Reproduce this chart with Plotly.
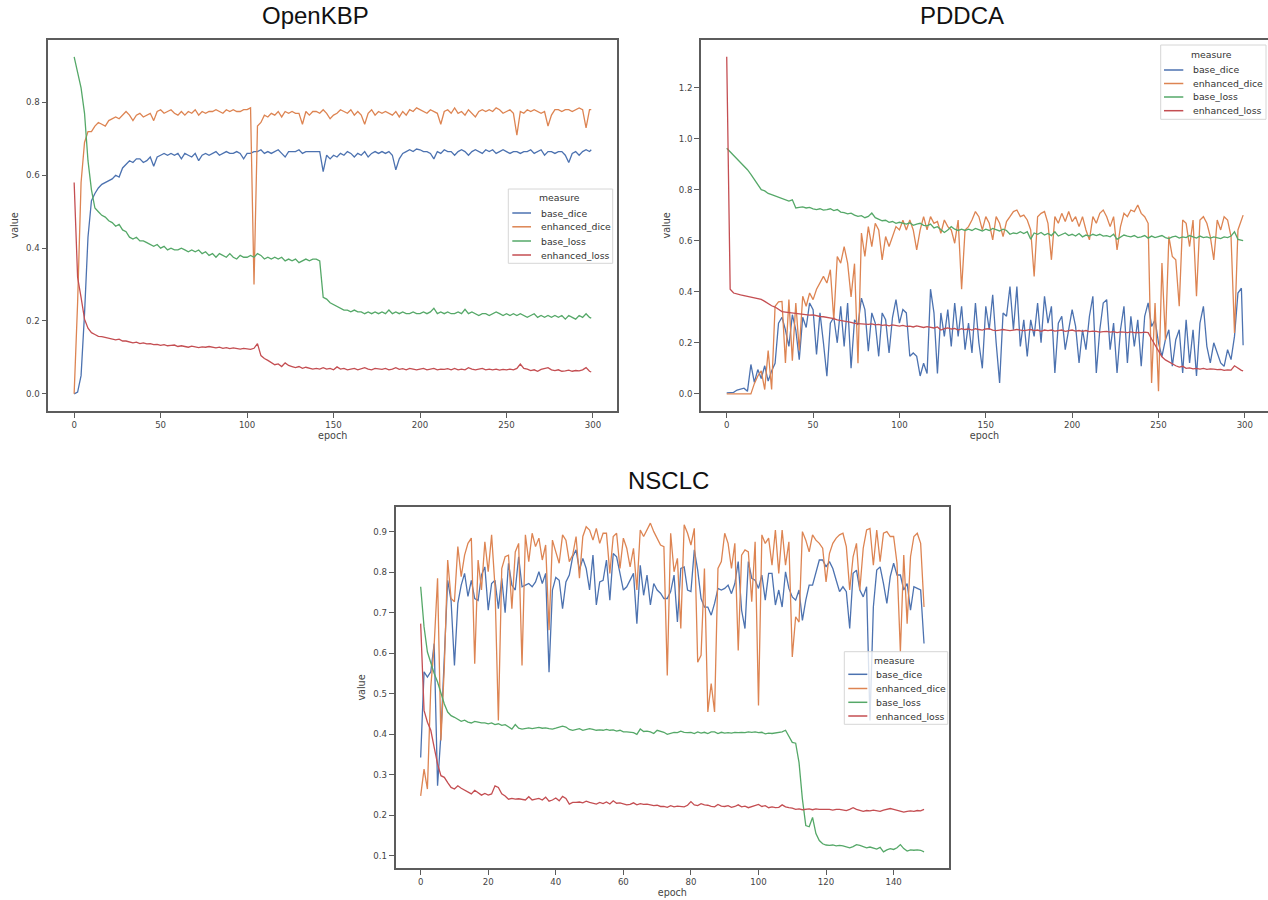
import plotly.graph_objects as go

W, H = 1268, 900

series_names = ["base_dice", "enhanced_dice", "base_loss", "enhanced_loss"]
colors = ["#4C72B0", "#DD8452", "#55A868", "#C44E52"]

epochs_300 = list(range(0, 300, 2)) + [299]
epochs_150 = list(range(150))

# ---------------- OpenKBP ----------------
okbp_base_dice = [
    0.0, 0.005, 0.05, 0.22, 0.43, 0.53, 0.55, 0.565, 0.575, 0.58,
    0.585, 0.59, 0.60, 0.595, 0.62, 0.63, 0.64, 0.635, 0.645, 0.645,
    0.635, 0.64, 0.65, 0.625, 0.65, 0.655, 0.66, 0.655, 0.66, 0.655,
    0.66, 0.645, 0.66, 0.655, 0.65, 0.66, 0.64, 0.655, 0.66, 0.655,
    0.66, 0.665, 0.655, 0.66, 0.665, 0.66, 0.66, 0.665, 0.66, 0.645,
    0.66, 0.66, 0.665, 0.665, 0.67, 0.66, 0.665, 0.66, 0.665, 0.67,
    0.66, 0.65, 0.665, 0.665, 0.665, 0.67, 0.66, 0.665, 0.665, 0.665,
    0.665, 0.665, 0.61, 0.655, 0.645, 0.655, 0.65, 0.66, 0.655, 0.665,
    0.66, 0.65, 0.66, 0.655, 0.665, 0.65, 0.66, 0.665, 0.66, 0.665,
    0.66, 0.665, 0.655, 0.615, 0.645, 0.66, 0.665, 0.67, 0.665, 0.672,
    0.67, 0.665, 0.665, 0.66, 0.645, 0.665, 0.66, 0.67, 0.665, 0.665,
    0.655, 0.665, 0.67, 0.665, 0.655, 0.665, 0.67, 0.665, 0.66, 0.67,
    0.665, 0.67, 0.66, 0.665, 0.67, 0.665, 0.66, 0.665, 0.665, 0.66,
    0.665, 0.665, 0.67, 0.66, 0.665, 0.67, 0.655, 0.665, 0.665, 0.66,
    0.665, 0.665, 0.655, 0.635, 0.66, 0.665, 0.655, 0.665, 0.67, 0.665,
    0.67]
okbp_enh_dice = [
    0.0, 0.25, 0.58, 0.69, 0.72, 0.72, 0.735, 0.745, 0.74, 0.735,
    0.75, 0.755, 0.76, 0.755, 0.765, 0.775, 0.765, 0.75, 0.765, 0.77,
    0.76, 0.765, 0.77, 0.75, 0.775, 0.78, 0.77, 0.775, 0.78, 0.77,
    0.765, 0.775, 0.765, 0.775, 0.77, 0.78, 0.765, 0.775, 0.77, 0.775,
    0.775, 0.78, 0.775, 0.77, 0.78, 0.775, 0.78, 0.775, 0.775, 0.78,
    0.78, 0.785, 0.30, 0.735, 0.745, 0.765, 0.76, 0.77, 0.765, 0.775,
    0.76, 0.775, 0.77, 0.775, 0.77, 0.77, 0.74, 0.775, 0.765, 0.775,
    0.775, 0.77, 0.78, 0.77, 0.755, 0.765, 0.77, 0.78, 0.775, 0.77,
    0.78, 0.765, 0.775, 0.765, 0.74, 0.77, 0.78, 0.765, 0.775, 0.77,
    0.775, 0.77, 0.765, 0.775, 0.76, 0.775, 0.765, 0.78, 0.775, 0.785,
    0.78, 0.775, 0.77, 0.78, 0.775, 0.77, 0.74, 0.775, 0.78, 0.77,
    0.785, 0.77, 0.775, 0.765, 0.78, 0.77, 0.76, 0.775, 0.78, 0.775,
    0.78, 0.775, 0.785, 0.78, 0.77, 0.775, 0.78, 0.77, 0.71, 0.775,
    0.77, 0.78, 0.775, 0.78, 0.775, 0.77, 0.775, 0.735, 0.765, 0.78,
    0.78, 0.775, 0.78, 0.78, 0.775, 0.78, 0.785, 0.78, 0.73, 0.78,
    0.78]
okbp_base_loss = [
    0.925, 0.88, 0.84, 0.77, 0.64, 0.56, 0.51, 0.50, 0.49, 0.485,
    0.475, 0.47, 0.46, 0.465, 0.45, 0.445, 0.43, 0.425, 0.43, 0.42,
    0.42, 0.415, 0.41, 0.405, 0.41, 0.40, 0.405, 0.395, 0.40, 0.395,
    0.395, 0.40, 0.395, 0.39, 0.395, 0.39, 0.395, 0.385, 0.39, 0.38,
    0.385, 0.375, 0.385, 0.38, 0.375, 0.385, 0.375, 0.37, 0.38, 0.375,
    0.375, 0.38, 0.375, 0.385, 0.38, 0.37, 0.375, 0.37, 0.375, 0.37,
    0.375, 0.365, 0.37, 0.365, 0.37, 0.36, 0.365, 0.37, 0.365, 0.37,
    0.37, 0.365, 0.265, 0.26, 0.25, 0.245, 0.24, 0.235, 0.23, 0.23,
    0.225, 0.23, 0.225, 0.225, 0.22, 0.225, 0.22, 0.225, 0.22, 0.225,
    0.22, 0.23, 0.22, 0.225, 0.22, 0.225, 0.22, 0.22, 0.225, 0.22,
    0.22, 0.225, 0.22, 0.225, 0.235, 0.22, 0.225, 0.22, 0.225, 0.22,
    0.22, 0.225, 0.22, 0.232, 0.22, 0.225, 0.22, 0.215, 0.22, 0.22,
    0.215, 0.22, 0.225, 0.22, 0.215, 0.22, 0.215, 0.22, 0.215, 0.22,
    0.215, 0.21, 0.215, 0.22, 0.21, 0.215, 0.21, 0.215, 0.21, 0.215,
    0.21, 0.215, 0.205, 0.215, 0.21, 0.205, 0.215, 0.21, 0.22, 0.21,
    0.208]
okbp_enh_loss = [
    0.58, 0.32, 0.265, 0.205, 0.18, 0.168, 0.163, 0.158, 0.157, 0.155,
    0.153, 0.15, 0.148, 0.15, 0.145, 0.145, 0.142, 0.14, 0.142, 0.138,
    0.14, 0.137, 0.138, 0.135, 0.136, 0.133, 0.135, 0.132, 0.133, 0.134,
    0.13, 0.132, 0.13, 0.128, 0.131, 0.13, 0.127, 0.129, 0.128, 0.13,
    0.127, 0.126, 0.128, 0.125, 0.127, 0.124, 0.126, 0.125, 0.123, 0.125,
    0.124, 0.122, 0.125, 0.138, 0.105, 0.097, 0.092, 0.085, 0.08, 0.082,
    0.075, 0.085, 0.078, 0.075, 0.072, 0.075, 0.07, 0.073, 0.07, 0.068,
    0.07, 0.068, 0.072, 0.068, 0.07, 0.066, 0.074, 0.068, 0.07, 0.066,
    0.068, 0.07, 0.066, 0.068, 0.072, 0.068, 0.066, 0.07, 0.068, 0.067,
    0.07, 0.066, 0.068, 0.072, 0.067, 0.069, 0.066, 0.07, 0.068, 0.066,
    0.068, 0.07, 0.066, 0.068, 0.07, 0.066, 0.068, 0.067, 0.069, 0.066,
    0.07, 0.066, 0.068, 0.066, 0.072, 0.068, 0.066, 0.068, 0.07, 0.066,
    0.068, 0.066, 0.068, 0.065, 0.067, 0.066, 0.068, 0.066, 0.07, 0.082,
    0.07, 0.068, 0.064, 0.066, 0.062, 0.067, 0.07, 0.072, 0.066, 0.064,
    0.066, 0.062, 0.063, 0.065, 0.062, 0.064, 0.063, 0.066, 0.072, 0.062,
    0.06]

# ---------------- PDDCA ----------------
pddca_base_dice = [
    0.004, 0.004, 0.006, 0.015, 0.02, 0.022, 0.01, 0.115, 0.045, 0.095,
    0.06, 0.11, 0.05, 0.09, 0.12, 0.277, 0.30, 0.25, 0.186, 0.31,
    0.25, 0.134, 0.30, 0.26, 0.356, 0.33, 0.154, 0.317, 0.20, 0.069,
    0.277, 0.30, 0.20, 0.343, 0.186, 0.356, 0.10, 0.29, 0.27, 0.375,
    0.33, 0.167, 0.317, 0.277, 0.147, 0.317, 0.29, 0.16, 0.30, 0.369,
    0.277, 0.33, 0.317, 0.147, 0.16, 0.147, 0.07, 0.12, 0.08, 0.41,
    0.317, 0.08, 0.317, 0.225, 0.33, 0.186, 0.356, 0.225, 0.343, 0.173,
    0.277, 0.16, 0.356, 0.20, 0.10, 0.343, 0.251, 0.388, 0.20, 0.043,
    0.317, 0.304, 0.42, 0.251, 0.42, 0.186, 0.29, 0.147, 0.29, 0.225,
    0.356, 0.20, 0.382, 0.277, 0.343, 0.082, 0.277, 0.304, 0.173, 0.251,
    0.33, 0.264, 0.121, 0.251, 0.173, 0.304, 0.382, 0.082, 0.25, 0.356,
    0.369, 0.173, 0.277, 0.082, 0.251, 0.343, 0.121, 0.304, 0.186, 0.29,
    0.108, 0.304, 0.356, 0.264, 0.29, 0.20, 0.147, 0.212, 0.251, 0.108,
    0.212, 0.251, 0.082, 0.29, 0.121, 0.251, 0.07, 0.277, 0.343, 0.186,
    0.121, 0.20, 0.16, 0.121, 0.108, 0.173, 0.134, 0.225, 0.395, 0.414,
    0.19]
pddca_enh_dice = [
    0.0, 0.0, 0.0, 0.0, 0.0, 0.0, 0.0, 0.0, 0.04, 0.07,
    0.09, 0.017, 0.17, 0.017, 0.343, 0.36, 0.362, 0.121, 0.369, 0.13,
    0.356, 0.17, 0.382, 0.343, 0.395, 0.369, 0.41, 0.434, 0.46, 0.434,
    0.486, 0.29, 0.538, 0.512, 0.577, 0.512, 0.38, 0.51, 0.12, 0.63,
    0.538, 0.655, 0.577, 0.668, 0.642, 0.525, 0.616, 0.577, 0.62, 0.655,
    0.642, 0.68, 0.642, 0.681, 0.642, 0.564, 0.642, 0.694, 0.642, 0.694,
    0.668, 0.675, 0.629, 0.681, 0.655, 0.642, 0.59, 0.681, 0.41, 0.642,
    0.655, 0.681, 0.714, 0.694, 0.642, 0.694, 0.668, 0.603, 0.694, 0.668,
    0.616, 0.675, 0.694, 0.714, 0.72, 0.694, 0.70, 0.681, 0.642, 0.46,
    0.694, 0.707, 0.714, 0.668, 0.525, 0.694, 0.668, 0.707, 0.675, 0.714,
    0.675, 0.694, 0.655, 0.694, 0.642, 0.603, 0.694, 0.668, 0.707, 0.72,
    0.694, 0.655, 0.694, 0.564, 0.655, 0.707, 0.694, 0.72, 0.714, 0.74,
    0.707, 0.694, 0.668, 0.043, 0.356, 0.01, 0.512, 0.21, 0.616, 0.538,
    0.525, 0.343, 0.681, 0.668, 0.577, 0.681, 0.382, 0.681, 0.694, 0.668,
    0.616, 0.525, 0.681, 0.642, 0.694, 0.681, 0.616, 0.238, 0.642, 0.681,
    0.70]
pddca_base_loss = [
    0.962, 0.948, 0.935, 0.922, 0.91, 0.895, 0.878, 0.86, 0.84, 0.815,
    0.80, 0.795, 0.785, 0.78, 0.775, 0.77, 0.765, 0.76, 0.755, 0.76,
    0.728, 0.73, 0.732, 0.728, 0.73, 0.725, 0.722, 0.725, 0.72, 0.722,
    0.725, 0.718, 0.722, 0.712, 0.71, 0.705, 0.708, 0.70, 0.695, 0.698,
    0.69, 0.695, 0.708, 0.69, 0.685, 0.678, 0.68, 0.672, 0.675, 0.668,
    0.672, 0.668, 0.665, 0.67, 0.66, 0.665, 0.668, 0.66, 0.658, 0.665,
    0.65, 0.655, 0.645, 0.632, 0.642, 0.655, 0.645, 0.64, 0.645, 0.64,
    0.645, 0.64, 0.648, 0.642, 0.638, 0.645, 0.64, 0.648, 0.643, 0.638,
    0.645, 0.64, 0.625, 0.63, 0.628, 0.635, 0.628, 0.635, 0.606, 0.63,
    0.625, 0.632, 0.622, 0.628, 0.62, 0.635, 0.618, 0.625, 0.63, 0.62,
    0.625, 0.618, 0.628, 0.615, 0.622, 0.618, 0.625, 0.62, 0.625, 0.618,
    0.62, 0.615, 0.625, 0.605, 0.615, 0.622, 0.618, 0.615, 0.62, 0.612,
    0.615, 0.62, 0.61, 0.618, 0.612, 0.615, 0.62, 0.612, 0.608, 0.615,
    0.618, 0.61, 0.615, 0.612, 0.62, 0.615, 0.61, 0.618, 0.612, 0.615,
    0.61, 0.615, 0.612, 0.608, 0.615, 0.612, 0.618, 0.635, 0.605, 0.60,
    0.60]
pddca_enh_loss = [
    1.32, 0.41, 0.395, 0.39, 0.388, 0.385, 0.382, 0.38, 0.378, 0.375,
    0.37, 0.362, 0.352, 0.345, 0.34, 0.33, 0.322, 0.32, 0.318, 0.315,
    0.313, 0.312, 0.31, 0.31, 0.308, 0.309, 0.305, 0.303, 0.302, 0.30,
    0.298, 0.295, 0.29, 0.288, 0.285, 0.282, 0.28, 0.276, 0.275, 0.274,
    0.275, 0.272, 0.274, 0.27, 0.272, 0.268, 0.27, 0.266, 0.27, 0.268,
    0.265, 0.268, 0.264, 0.265, 0.262, 0.266, 0.262, 0.26, 0.263, 0.26,
    0.258, 0.262, 0.25, 0.255, 0.258, 0.254, 0.256, 0.25, 0.255, 0.252,
    0.254, 0.25, 0.255, 0.252, 0.25, 0.254, 0.255, 0.25, 0.248, 0.25,
    0.252, 0.25, 0.248, 0.25, 0.252, 0.25, 0.248, 0.25, 0.252, 0.248,
    0.25, 0.245, 0.25, 0.248, 0.25, 0.246, 0.248, 0.25, 0.245, 0.248,
    0.25, 0.246, 0.248, 0.245, 0.248, 0.244, 0.246, 0.245, 0.242, 0.244,
    0.245, 0.242, 0.244, 0.24, 0.243, 0.242, 0.24, 0.243, 0.24, 0.241,
    0.24, 0.242, 0.24, 0.215, 0.19, 0.165, 0.145, 0.133, 0.125, 0.115,
    0.11, 0.105, 0.108, 0.10, 0.102, 0.098, 0.10, 0.097, 0.10, 0.096,
    0.098, 0.097, 0.095, 0.096, 0.092, 0.094, 0.093, 0.11, 0.10, 0.092,
    0.09]

# ---------------- NSCLC ----------------
nsclc_base_dice = [
    0.343, 0.554, 0.541, 0.554, 0.624, 0.273, 0.40, 0.59, 0.78, 0.73,
    0.57, 0.723, 0.768, 0.797, 0.74, 0.78, 0.735, 0.73, 0.793, 0.813,
    0.706, 0.772, 0.78, 0.71, 0.785, 0.70, 0.822, 0.768, 0.756, 0.838,
    0.764, 0.768, 0.772, 0.764, 0.776, 0.801, 0.772, 0.797, 0.553, 0.756,
    0.787, 0.78, 0.71, 0.776, 0.793, 0.838, 0.855, 0.805, 0.834, 0.809,
    0.756, 0.842, 0.719, 0.776, 0.78, 0.83, 0.731, 0.846, 0.838, 0.797,
    0.756, 0.764, 0.78, 0.797, 0.673, 0.817, 0.743, 0.793, 0.719, 0.772,
    0.756, 0.748, 0.735, 0.735, 0.752, 0.793, 0.677, 0.809, 0.813, 0.756,
    0.752, 0.855, 0.805, 0.735, 0.714, 0.714, 0.694, 0.723, 0.76, 0.756,
    0.76, 0.768, 0.747, 0.772, 0.826, 0.706, 0.661, 0.826, 0.785, 0.78,
    0.76, 0.793, 0.731, 0.797, 0.797, 0.719, 0.756, 0.714, 0.801, 0.76,
    0.739, 0.731, 0.756, 0.681, 0.731, 0.768, 0.768, 0.801, 0.83, 0.83,
    0.813, 0.826, 0.809, 0.78, 0.752, 0.764, 0.752, 0.661, 0.797, 0.805,
    0.756, 0.739, 0.764, 0.434, 0.714, 0.805, 0.813, 0.772, 0.723, 0.789,
    0.822, 0.793, 0.793, 0.756, 0.772, 0.706, 0.764, 0.76, 0.756, 0.624]
nsclc_enh_dice = [
    0.248, 0.314, 0.265, 0.517, 0.62, 0.785, 0.385, 0.566, 0.83, 0.735,
    0.727, 0.863, 0.789, 0.842, 0.871, 0.884, 0.574, 0.83, 0.756, 0.875,
    0.801, 0.892, 0.764, 0.434, 0.809, 0.838, 0.842, 0.71, 0.85, 0.871,
    0.57, 0.892, 0.826, 0.896, 0.863, 0.884, 0.83, 0.867, 0.657, 0.879,
    0.85, 0.822, 0.892, 0.879, 0.826, 0.842, 0.888, 0.785, 0.888, 0.912,
    0.904, 0.879, 0.908, 0.871, 0.896, 0.896, 0.797, 0.888, 0.896, 0.809,
    0.884, 0.859, 0.813, 0.859, 0.756, 0.904, 0.888, 0.904, 0.921, 0.90,
    0.884, 0.867, 0.863, 0.545, 0.896, 0.801, 0.834, 0.661, 0.917, 0.896,
    0.867, 0.908, 0.578, 0.595, 0.809, 0.455, 0.525, 0.455, 0.809, 0.826,
    0.896, 0.871, 0.809, 0.871, 0.607, 0.842, 0.855, 0.85, 0.727, 0.875,
    0.471, 0.892, 0.871, 0.884, 0.817, 0.904, 0.797, 0.904, 0.817, 0.875,
    0.591, 0.69, 0.677, 0.90, 0.879, 0.85, 0.892, 0.879, 0.871, 0.859,
    0.776, 0.846, 0.871, 0.884, 0.892, 0.896, 0.863, 0.756, 0.838, 0.871,
    0.756, 0.859, 0.904, 0.908, 0.817, 0.904, 0.826, 0.896, 0.90, 0.888,
    0.888, 0.822, 0.603, 0.842, 0.673, 0.838, 0.888, 0.896, 0.871, 0.714]
nsclc_base_loss = [
    0.764, 0.665, 0.603, 0.574, 0.55, 0.529, 0.50, 0.475, 0.455, 0.446,
    0.442, 0.438, 0.432, 0.435, 0.43, 0.428, 0.432, 0.43, 0.428, 0.428,
    0.426, 0.428, 0.424, 0.426, 0.422, 0.424, 0.418, 0.413, 0.424, 0.415,
    0.413, 0.415, 0.416, 0.414, 0.416, 0.417, 0.415, 0.416, 0.414, 0.413,
    0.415, 0.418, 0.42, 0.418, 0.412, 0.41, 0.412, 0.414, 0.41, 0.412,
    0.414, 0.412, 0.41, 0.411, 0.41, 0.412, 0.41, 0.411, 0.408, 0.41,
    0.406, 0.406, 0.405, 0.404, 0.40, 0.413, 0.407, 0.408, 0.406, 0.402,
    0.41, 0.408, 0.405, 0.40, 0.402, 0.405, 0.404, 0.408, 0.405, 0.404,
    0.405, 0.402, 0.406, 0.403, 0.405, 0.402, 0.406, 0.406, 0.402, 0.405,
    0.403, 0.404, 0.403, 0.405, 0.404, 0.405, 0.404, 0.406, 0.405, 0.406,
    0.404, 0.405, 0.401, 0.403, 0.402, 0.403, 0.404, 0.406, 0.41, 0.395,
    0.38, 0.378, 0.33, 0.24, 0.175, 0.172, 0.195, 0.155, 0.138, 0.13,
    0.127, 0.126, 0.127, 0.125, 0.126, 0.125, 0.122, 0.12, 0.123, 0.128,
    0.126, 0.123, 0.12, 0.122, 0.12, 0.117, 0.121, 0.11, 0.115, 0.118,
    0.116, 0.12, 0.128, 0.118, 0.112, 0.115, 0.114, 0.115, 0.114, 0.11]
nsclc_enh_loss = [
    0.673, 0.459, 0.43, 0.41, 0.368, 0.327, 0.298, 0.294, 0.281, 0.269,
    0.265, 0.273, 0.267, 0.262, 0.259, 0.253, 0.262, 0.256, 0.25, 0.254,
    0.25, 0.253, 0.273, 0.269, 0.253, 0.248, 0.24, 0.242, 0.24, 0.241,
    0.24, 0.238, 0.246, 0.238, 0.24, 0.242, 0.238, 0.245, 0.235, 0.238,
    0.243, 0.236, 0.247, 0.242, 0.228, 0.232, 0.232, 0.233, 0.231, 0.235,
    0.232, 0.23, 0.228, 0.232, 0.229, 0.233, 0.228, 0.236, 0.23, 0.231,
    0.228, 0.226, 0.227, 0.231, 0.226, 0.229, 0.227, 0.228, 0.226, 0.224,
    0.225, 0.222, 0.222, 0.22, 0.224, 0.221, 0.223, 0.222, 0.221, 0.225,
    0.234, 0.226, 0.224, 0.229, 0.226, 0.225, 0.222, 0.221, 0.227, 0.223,
    0.222, 0.224, 0.22, 0.222, 0.226, 0.221, 0.223, 0.219, 0.222, 0.224,
    0.227, 0.222, 0.224, 0.219, 0.221, 0.219, 0.22, 0.226, 0.221, 0.219,
    0.218, 0.215, 0.216, 0.214, 0.215, 0.216, 0.214, 0.216, 0.215, 0.215,
    0.214, 0.215, 0.213, 0.215, 0.215, 0.213, 0.212, 0.215, 0.219, 0.215,
    0.213, 0.21, 0.212, 0.211, 0.213, 0.211, 0.21, 0.213, 0.215, 0.217,
    0.215, 0.212, 0.21, 0.208, 0.21, 0.211, 0.21, 0.212, 0.211, 0.215]

panel_titles = ["OpenKBP", "PDDCA", "NSCLC"]
legend_title = "measure"

panels = [
    dict(x=epochs_300, ys=[okbp_base_dice, okbp_enh_dice, okbp_base_loss, okbp_enh_loss],
         xa="x", ya="y"),
    dict(x=epochs_300, ys=[pddca_base_dice, pddca_enh_dice, pddca_base_loss, pddca_enh_loss],
         xa="x2", ya="y2"),
    dict(x=epochs_150, ys=[nsclc_base_dice, nsclc_enh_dice, nsclc_base_loss, nsclc_enh_loss],
         xa="x3", ya="y3"),
]

for p in panels:
    for ys in p["ys"]:
        if len(ys) != len(p["x"]):
            raise ValueError(f"length mismatch {len(ys)} vs {len(p['x'])}")

fig = go.Figure()
for i, p in enumerate(panels):
    for name, color, ys in zip(series_names, colors, p["ys"]):
        fig.add_trace(go.Scatter(
            x=p["x"], y=ys, mode="lines", name=name,
            line=dict(color=color, width=1.3),
            xaxis=p["xa"], yaxis=p["ya"], showlegend=False,
            legendgroup=name,
        ))


def fx(px):
    """page pixel x -> paper fraction"""
    return px / W


def fy(py):
    """page pixel y -> paper fraction"""
    return 1 - py / H


SPINE = "#5c5c5c"
tick_font = dict(family="DejaVu Sans", size=8.6, color="#444444")
title_font = dict(family="DejaVu Sans", size=9.6, color="#444444")
axis_common = dict(
    showline=True, linecolor=SPINE, linewidth=1.6,
    ticks="outside", ticklen=5, tickwidth=1.2, tickcolor=SPINE,
    showgrid=False, zeroline=False, tickfont=tick_font, automargin=False,
)

top_dom = [fy(410.7), fy(40)]

fig.update_layout(
    xaxis=dict(axis_common, domain=[fx(48.3), fx(617.1)], range=[-14.95, 313.95],
               tick0=0, dtick=50, anchor="y", mirror=True,
               title=dict(text="epoch", font=title_font, standoff=3)),
    yaxis=dict(axis_common, domain=top_dom, range=[-0.04625, 0.97125],
               tick0=0, dtick=0.2, tickformat=".1f", anchor="x", mirror=True,
               title=dict(text="value", font=title_font, standoff=6)),
    xaxis2=dict(axis_common, domain=[fx(700.9), 1.0], range=[-14.95, 313.4],
                tick0=0, dtick=50, anchor="y2", mirror=True,
                title=dict(text="epoch", font=title_font, standoff=3)),
    yaxis2=dict(axis_common, domain=top_dom, range=[-0.066, 1.386],
                tick0=0, dtick=0.2, tickformat=".1f", anchor="x2", mirror=False,
                title=dict(text="value", font=title_font, standoff=6)),
    xaxis3=dict(axis_common, domain=[fx(395.5), fx(949.2)], range=[-7.45, 156.45],
                tick0=0, dtick=20, anchor="y3", mirror=True,
                title=dict(text="epoch", font=title_font, standoff=3)),
    yaxis3=dict(axis_common, domain=[fy(868.3), fy(506.7)], range=[0.0695, 0.9615],
                tick0=0, dtick=0.1, tickformat=".1f", anchor="x3", mirror=True,
                title=dict(text="value", font=title_font, standoff=6)),
)

# ---- legends (one boxed "measure" legend per panel, matplotlib style) ----
legend_specs = [
    dict(box=(508.3, 189.0, 612.7, 263.3), tx=559.3, ty=197.5,
         lx0=512.3, lx1=531.0, txt=538.7, ys=(213.0, 226.8, 241.0, 255.0)),
    dict(box=(1160.7, 45.0, 1266.0, 119.3), tx=1211.7, ty=54.3,
         lx0=1164.0, lx1=1183.3, txt=1190.7, ys=(70.0, 83.5, 97.0, 110.7)),
    dict(box=(844.3, 651.7, 947.7, 724.3), tx=894.3, ty=660.0,
         lx0=848.3, lx1=867.3, txt=874.3, ys=(674.3, 688.5, 702.3, 716.0)),
]
legend_font = dict(family="DejaVu Sans", size=9.3, color="#333333")

for spec in legend_specs:
    x0, y0, x1, y1 = spec["box"]
    fig.add_shape(type="rect", xref="paper", yref="paper",
                  x0=fx(x0), x1=fx(x1), y0=fy(y1), y1=fy(y0),
                  fillcolor="rgba(255,255,255,0.8)",
                  line=dict(color="#d6d6d6", width=1), layer="above")
    fig.add_annotation(text=legend_title, x=fx(spec["tx"]), y=fy(spec["ty"]),
                       xref="paper", yref="paper", showarrow=False,
                       xanchor="center", yanchor="middle", font=legend_font)
    for name, color, yy in zip(series_names, colors, spec["ys"]):
        fig.add_shape(type="line", xref="paper", yref="paper",
                      x0=fx(spec["lx0"]), x1=fx(spec["lx1"]), y0=fy(yy), y1=fy(yy),
                      line=dict(color=color, width=1.5), layer="above")
        fig.add_annotation(text=name, x=fx(spec["txt"]), y=fy(yy),
                           xref="paper", yref="paper", showarrow=False,
                           xanchor="left", yanchor="middle", font=legend_font)

# ---- panel titles ----
title_font_big = dict(family="Liberation Sans", size=24, color="#111111")
for text, px, py in zip(panel_titles, [315, 962, 668], [15, 15, 480]):
    fig.add_annotation(text=text, x=fx(px), y=fy(py), xref="paper", yref="paper",
                       showarrow=False, xanchor="center", yanchor="middle",
                       font=title_font_big)

fig.update_layout(
    width=W, height=H, template="none",
    margin=dict(l=0, r=0, t=0, b=0),
    paper_bgcolor="white", plot_bgcolor="white",
    showlegend=False,
)

# Remove the browser's default 8px body margin so the figure fills the window,
# and hide the interactive mode bar.
fig.write_html(
    "out.html",
    config={"displayModeBar": False},
    post_script="document.body.style.margin='0px';"
                "document.body.style.overflow='hidden';",
)
